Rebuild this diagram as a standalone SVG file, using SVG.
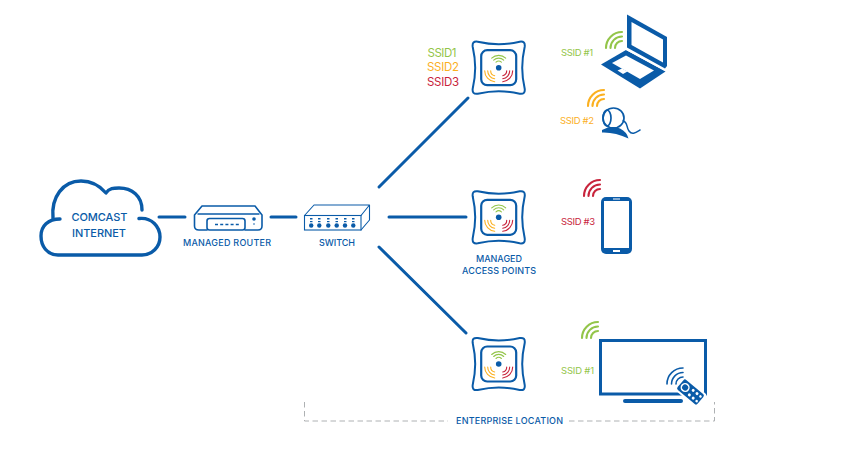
<svg xmlns="http://www.w3.org/2000/svg" xmlns:xlink="http://www.w3.org/1999/xlink" width="862" height="449" viewBox="0 0 862 449">
<style>
text{font-family:"Inter","Liberation Sans",sans-serif;font-weight:500;fill:#0a5ba8;text-anchor:middle;font-size:9px}
.lb{font-size:11px}
.s{font-weight:400;font-size:9.5px}
.ss{font-weight:400;font-size:11.5px}
.tg{fill:#93c549}.to{fill:#fbb01f}.tr{fill:#c8243c}
.ln{fill:none;stroke:#0a5ba8;stroke-width:3;stroke-linecap:round}
.ol{fill:none;stroke:#0a5ba8;stroke-linecap:round;stroke-linejoin:round}
.bf{fill:#0a5ba8}
.w{fill:#fff}
.wave{fill:none;stroke-width:2.1;stroke-linecap:round}
.wave2{fill:none;stroke-width:1.6;stroke-linecap:round}
.mini{fill:none;stroke-width:1.1;stroke-linecap:round}
</style>
<defs>
<path id="waves" d="M-16,0A16,16 0 0 1 0,-16M-11.500,0A11.500,11.500 0 0 1 0,-11.500M-7,0A7,7 0 0 1 0,-7"/>
<g id="ap">
<path class="ol" stroke-width="2" d="M-21,-26C-12,-24 -7,-23.500 0,-23.500C7,-23.500 12,-24 21,-26C25,-26.500 26.500,-25 26,-21C24,-12 23.500,-7 23.500,0C23.500,7 24,12 26,21C26.500,25 25,26.500 21,26C12,24 7,23.500 0,23.500C-7,23.500 -12,24 -21,26C-25,26.500 -26.500,25 -26,21C-24,12 -23.500,7 -23.500,0C-23.500,-7 -24,-12 -26,-21C-26.500,-25 -25,-26.500 -21,-26Z"/>
<rect class="ol" stroke-width="2.200" x="-17.500" y="-17.500" width="35" height="35" rx="6"/>
<circle class="bf" r="2.800"/>
<path class="mini" stroke="#93c549" d="M-7,-9.500A10,10 0 0 1 7,-9.500M-5,-7.500A7,7 0 0 1 5,-7.500M-2.700,-5.500A4,4 0 0 1 2.700,-5.500"/>
<path class="mini" stroke="#fbb01f" d="M-14,3A11,11 0 0 0 -4,14M-11,3A8,8 0 0 0 -4,11M-8,3A5,5 0 0 0 -4,8"/>
<path class="mini" stroke="#c8243c" d="M14,3A11,11 0 0 1 4,14M11,3A8,8 0 0 1 4,11M8,3A5,5 0 0 1 4,8"/>
</g>
</defs>

<g id="connectors">
<path class="ln" d="M159,217H185"/>
<path class="ln" d="M271,217H296"/>
<path class="ln" d="M379,187L468,98"/>
<path class="ln" d="M389,217H466"/>
<path class="ln" d="M379,247L466,333"/>
</g>

<g id="cloud">
<path class="ol" stroke-width="3.400" d="M139,218.500C152,217 160,227 160,237C160,247 152,255 142,255H58C47,255 41,246 41,236C41,226 48,219 60,219"/>
<path class="ol" stroke-width="3.400" d="M53,218C51,197 63,181 81,181C92,181 100,186 106,193C109,188 114,188 119,188C132,188 142,196 142,210"/>
<text class="lb" x="99.500" y="221" textLength="56">COMCAST</text>
<text class="lb" x="99" y="236.500" textLength="54">INTERNET</text>
</g>

<g id="router">
<path class="ol" stroke-width="1.600" d="M207,230H199Q194.500,230 194.500,226V215L202,206H255L262,215V226Q262,230 258,230H245"/>
<path class="ol" stroke-width="1.400" d="M198,214H259"/>
<rect class="ol" stroke-width="1.600" x="207" y="218.500" width="38" height="11.500" rx="2.500"/>
<path class="ol" stroke-width="1.300" stroke-dasharray="3 2.200" style="stroke-linecap:butt" d="M215,224.500H240"/>
<circle class="bf" cx="254" cy="219" r="1.800"/>
<circle class="bf" cx="254" cy="224" r=".8"/>
<text x="227" y="246" textLength="88">MANAGED ROUTER</text>
</g>

<g id="switch">
<path class="ol" stroke-width="1.100" d="M304.500,215.500L314,205H369.500L361,215.500ZM369.500,205V220L361,230"/>
<rect x="304.500" y="215.500" width="56.500" height="14.500" fill="#fff" stroke="#0a5ba8" stroke-width="1.100"/>
<g class="bf">
<rect x="310" y="218" width="2.500" height="1.500"/><rect x="318" y="218" width="2.500" height="1.500"/><rect x="327" y="218" width="2.500" height="1.500"/><rect x="335.500" y="218" width="2.500" height="1.500"/><rect x="344" y="218" width="2.500" height="1.500"/><rect x="352" y="218" width="2.500" height="1.500"/>
<rect x="310" y="221" width="2.500" height="1.200"/><rect x="318" y="221" width="2.500" height="1.200"/><rect x="327" y="221" width="2.500" height="1.200"/><rect x="335.500" y="221" width="2.500" height="1.200"/><rect x="344" y="221" width="2.500" height="1.200"/><rect x="352" y="221" width="2.500" height="1.200"/>
<circle cx="311.200" cy="225.500" r="2.200"/><circle cx="319.300" cy="225.500" r="2.200"/><circle cx="328.300" cy="225.500" r="2.200"/><circle cx="336.700" cy="225.500" r="2.200"/><circle cx="345" cy="225.500" r="2.200"/><circle cx="353.300" cy="225.500" r="2.200"/>
</g>
<text x="337" y="246" textLength="36">SWITCH</text>
</g>

<g id="ap1">
<use href="#ap" xlink:href="#ap" transform="translate(498.700 67.700)"/>
<text class="ss tg" x="442" y="57" textLength="29">SSID1</text>
<text class="ss to" x="443" y="71" textLength="32">SSID2</text>
<text class="ss tr" x="443" y="86" textLength="32">SSID3</text>
</g>
<g id="ap2">
<use href="#ap" xlink:href="#ap" transform="translate(498.700 217.300)"/>
<text x="499" y="262" textLength="46">MANAGED</text>
<text x="499" y="274" textLength="74">ACCESS POINTS</text>
</g>
<g id="ap3">
<use href="#ap" xlink:href="#ap" transform="translate(498.700 364)"/>
</g>

<g id="laptop">
<path class="bf" d="M627,14.500L667,37V66L665,68.500L627,47.500Z"/>
<path class="w" d="M631.500,22L663,39.500V62.500L631.500,45Z"/>
<path class="bf" d="M601,64.500L626,50L665.500,71.500L640,88.500Z"/>
<path class="w" d="M612,63L626,55.500L654,70.500L640,79Z"/>
<path class="w" d="M617.500,70.500L622,68.500L627.500,71.500L623,74Z"/>
<path d="M626,49.500L665,70.500" stroke="#fff" stroke-width="1" fill="none"/>
<use href="#waves" xlink:href="#waves" class="wave" stroke="#93c549" transform="translate(622 48)"/>
<text class="s tg" x="577" y="55.500" textLength="32">SSID #1</text>
</g>

<g id="webcam">
<use href="#waves" xlink:href="#waves" class="wave" stroke="#fbb01f" transform="translate(604 106)"/>
<ellipse class="ol" stroke-width="1.700" cx="613.500" cy="118" rx="10.500" ry="10"/>
<ellipse class="ol" stroke-width="1.700" cx="607" cy="118" rx="4" ry="8"/>
<path class="ol" stroke-width="1.500" d="M623,121C628,122 626,127 629,131C632,135 635,133 640,130"/>
<path class="bf" d="M602,130Q611,125 620,128.500Q627,132 628.500,138.500Q615,132 602,132.500Z"/>
<text class="s to" x="577" y="123.500" textLength="34">SSID #2</text>
</g>

<g id="phone">
<use href="#waves" xlink:href="#waves" class="wave" stroke="#c8243c" transform="translate(600 196)"/>
<rect class="bf" x="601" y="197" width="31" height="57" rx="5"/>
<rect class="w" x="604" y="201" width="25" height="47"/>
<rect class="w" x="613" y="250" width="7" height="2"/>
<rect class="w" x="613" y="198.500" width="7" height="1"/>
<text class="s tr" x="578" y="225" textLength="34">SSID #3</text>
</g>

<g id="tv">
<use href="#waves" xlink:href="#waves" class="wave" stroke="#93c549" transform="translate(598 338)"/>
<rect x="600.500" y="340.500" width="105" height="53.500" fill="#fff" stroke="#0a5ba8" stroke-width="3"/>
<path class="ln" style="stroke-width:4" d="M625,401H681"/>
<g transform="translate(690.500 392) rotate(40)">
<rect x="-15" y="-8.500" width="30" height="17" rx="3" fill="#fff"/>
<rect class="bf" x="-13" y="-6.500" width="26" height="13" rx="2"/>
<circle cx="-7" cy="0" r="3.800" fill="#0a5ba8" stroke="#fff" stroke-width="1.500"/>
<g class="w"><circle cx="1" cy="-3" r="1.500"/><circle cx="1" cy="3" r="1.500"/><circle cx="6" cy="-3" r="1.500"/><circle cx="6" cy="3" r="1.500"/><circle cx="10.500" cy="-3" r="1.300"/><circle cx="10.500" cy="3" r="1.300"/></g>
</g>
<use href="#waves" xlink:href="#waves" class="wave2" stroke="#0a5ba8" transform="translate(683 384)"/>
<text class="s tg" x="577.500" y="374" textLength="33">SSID #1</text>
</g>

<g id="enterprise-location">
<path d="M304.500,402V421H448M569,421H714.500V402" fill="none" stroke="#aeb1b3" stroke-width="1" stroke-dasharray="5.500 3.500"/>
<text x="509.500" y="424" textLength="107">ENTERPRISE LOCATION</text>
</g>
</svg>
